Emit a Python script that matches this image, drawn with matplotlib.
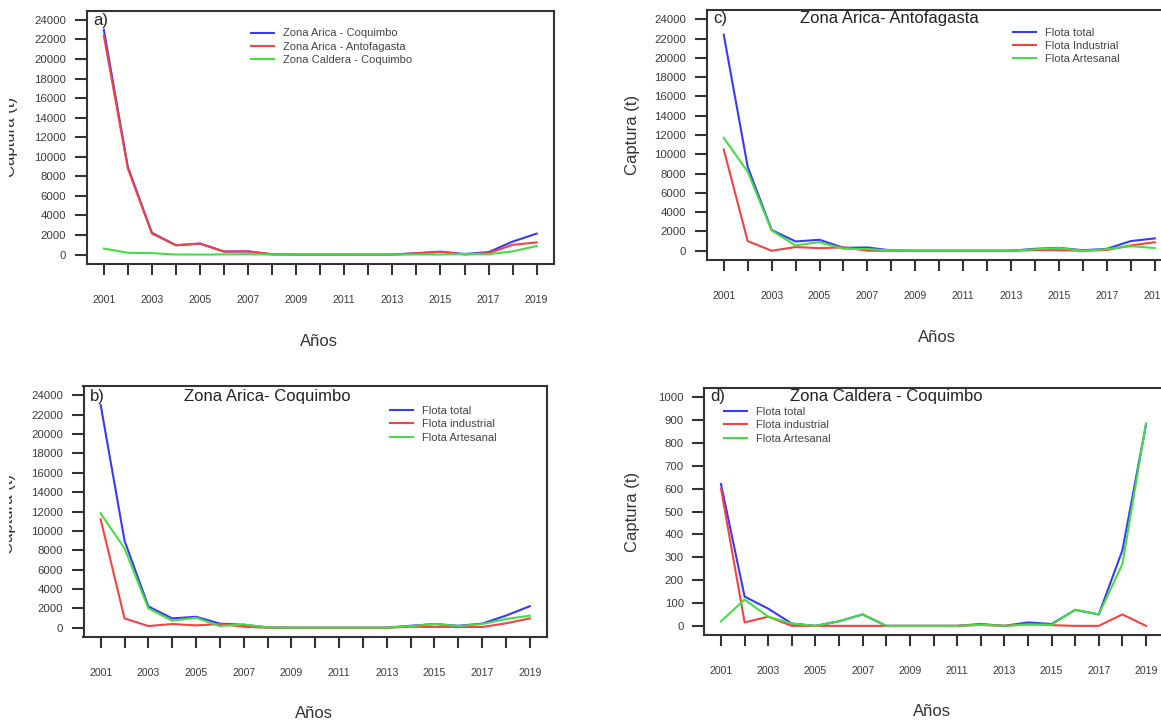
import matplotlib
matplotlib.use("Agg")
import matplotlib.pyplot as plt
from matplotlib.transforms import Bbox

plt.rcParams['font.family'] = ['Liberation Sans', 'DejaVu Sans']

years = list(range(2001, 2020))
tick_labels = [str(y) if (y - 2001) % 2 == 0 else "" for y in years]

# Panel a) totals by zone
a_arica_coquimbo = [23000, 8950, 2230, 960, 1130, 320, 330, 30, 0, 0, 0, 0, 0, 150, 300, 60, 250, 1330, 2150]
a_arica_antofagasta = [22400, 8800, 2150, 950, 1130, 300, 330, 30, 0, 0, 0, 0, 0, 130, 280, 0, 150, 1000, 1250]
a_caldera_coquimbo = [620, 190, 150, 10, 0, 20, 50, 0, 0, 0, 0, 8, 0, 15, 8, 70, 50, 330, 880]

# Panel b) Zona Arica - Coquimbo
b_total = [23000, 9000, 2200, 960, 1130, 420, 300, 30, 0, 0, 0, 0, 0, 200, 380, 200, 420, 1250, 2220]
b_industrial = [11200, 960, 170, 380, 240, 380, 100, 0, 0, 0, 0, 0, 0, 100, 80, 80, 70, 450, 960]
b_artesanal = [11800, 8200, 2000, 720, 1030, 170, 340, 30, 0, 0, 0, 0, 0, 170, 380, 170, 380, 900, 1240]

# Panel c) Zona Arica - Antofagasta
c_total = [22400, 8700, 2150, 960, 1140, 300, 340, 30, 0, 0, 0, 0, 0, 200, 300, 50, 200, 1000, 1280]
c_industrial = [10500, 1000, 0, 380, 270, 350, 0, 0, 0, 0, 0, 0, 0, 60, 60, 0, 80, 550, 880]
c_artesanal = [11700, 8200, 2100, 550, 900, 200, 170, 30, 0, 0, 0, 0, 0, 150, 280, 0, 170, 480, 280]

# Panel d) Zona Caldera - Coquimbo
d_total = [620, 128, 75, 10, 0, 20, 50, 0, 0, 0, 0, 8, 0, 15, 8, 70, 50, 330, 880]
d_industrial = [600, 15, 40, 0, 0, 0, 0, 0, 0, 0, 0, 4, 0, 8, 3, 0, 0, 50, 0]
d_artesanal = [20, 115, 40, 10, 0, 20, 50, 0, 0, 0, 0, 5, 0, 5, 5, 70, 50, 270, 885]

names_a = ["Zona Arica - Coquimbo", "Zona Arica - Antofagasta", "Zona Caldera - Coquimbo"]
names_fleet = ["Flota total", "Flota industrial", "Flota Artesanal"]
names_fleet_c = ["Flota total", "Flota Industrial", "Flota Artesanal"]

BLUE, RED, GREEN = "#3a3af5", "#f54242", "#45dc45"
DARK = "#333333"

W, H = 1161, 720
fig = plt.figure(figsize=(W / 100, H / 100), dpi=100)


def add_ax(l, r, t, b):
    return fig.add_axes([l / W, 1 - b / H, (r - l) / W, (b - t) / H])


def style(ax, yticks):
    ax.set_xlim(2001 - 0.72, 2019 + 0.72)
    lo, hi = yticks[0], yticks[-1]
    pad = (hi - lo) * 0.04
    ax.set_ylim(lo - pad, hi + pad)
    ax.set_xticks(years)
    ax.set_xticklabels(tick_labels)
    ax.set_yticks(yticks)
    ax.set_yticklabels([str(v) for v in yticks])
    for s in ax.spines.values():
        s.set_linewidth(1.5)
        s.set_color(DARK)
    ax.tick_params(axis='x', direction='out', length=8, width=1.5, color=DARK,
                   pad=14, labelsize=7.6, labelcolor="#3a3a3a")
    ax.tick_params(axis='y', direction='out', length=8.6, width=1.5, color=DARK,
                   pad=6, labelsize=8.2, labelcolor="#3a3a3a")


def legend(ax, labels, x_px, y_px):
    ax.legend(labels, loc='upper left', bbox_to_anchor=(x_px / W, 1 - y_px / H),
              bbox_transform=fig.transFigure, frameon=False, fontsize=8,
              handlelength=2.1, handletextpad=0.8, labelspacing=0.3,
              borderpad=0, borderaxespad=0, labelcolor="#444444")


def series(ax, data):
    for vals, col in zip(data, [BLUE, RED, GREEN]):
        ax.plot(years, vals, color=col, lw=1.5)


yt_big = list(range(0, 24001, 2000))
yt_small = list(range(0, 1001, 100))

axA = add_ax(86.5, 554, 10.5, 264)
axC = add_ax(706.5, 1172, 10, 260)
axB = add_ax(83.5, 547, 386, 637)
axD = add_ax(704, 1163, 388, 635)

series(axA, [a_arica_coquimbo, a_arica_antofagasta, a_caldera_coquimbo])
series(axB, [b_total, b_industrial, b_artesanal])
series(axC, [c_total, c_industrial, c_artesanal])
series(axD, [d_total, d_industrial, d_artesanal])

for ax, yt in [(axA, yt_big), (axB, yt_big), (axC, yt_big), (axD, yt_small)]:
    style(ax, yt)

legend(axA, names_a, 251, 28.5)
legend(axC, names_fleet_c, 1013, 27.5)
legend(axB, names_fleet, 390, 406)
legend(axD, names_fleet, 724, 407)


def ftext(x, y, s, **kw):
    return fig.text(x / W, 1 - y / H, s, **kw)


tkw = dict(fontsize=12, color="#222222", va='center')
ftext(93, 20, "a)", ha='left', **tkw)
ftext(713, 19, "c)", ha='left', **tkw)
ftext(889, 19, "Zona Arica- Antofagasta", ha='center', **tkw)
ftext(90, 397, "b)", ha='left', **tkw)
ftext(267, 397, "Zona Arica- Coquimbo", ha='center', **tkw)
ftext(710, 397, "d)", ha='left', **tkw)
ftext(886, 397, "Zona Caldera - Coquimbo", ha='center', **tkw)

lkw = dict(fontsize=12, color="#333333", ha='center', va='center')
ftext(319, 341, "Años", **lkw)
ftext(937, 338, "Años", **lkw)
ftext(314, 713, "Años", **lkw)
ftext(932, 711, "Años", **lkw)

ftext(632, 135, "Captura (t)", rotation=90, **lkw)
ftext(632, 512, "Captura (t)", rotation=90, **lkw)
clip = Bbox.from_extents(9, 0, 200, H)
for (x, y) in [(11, 137), (9, 514)]:
    t = ftext(x, y, "Captura (t)", rotation=90, **lkw)
    t.set_clip_box(clip)
    t.set_clip_on(True)

fig.savefig("out.png", dpi=100, facecolor="white")
